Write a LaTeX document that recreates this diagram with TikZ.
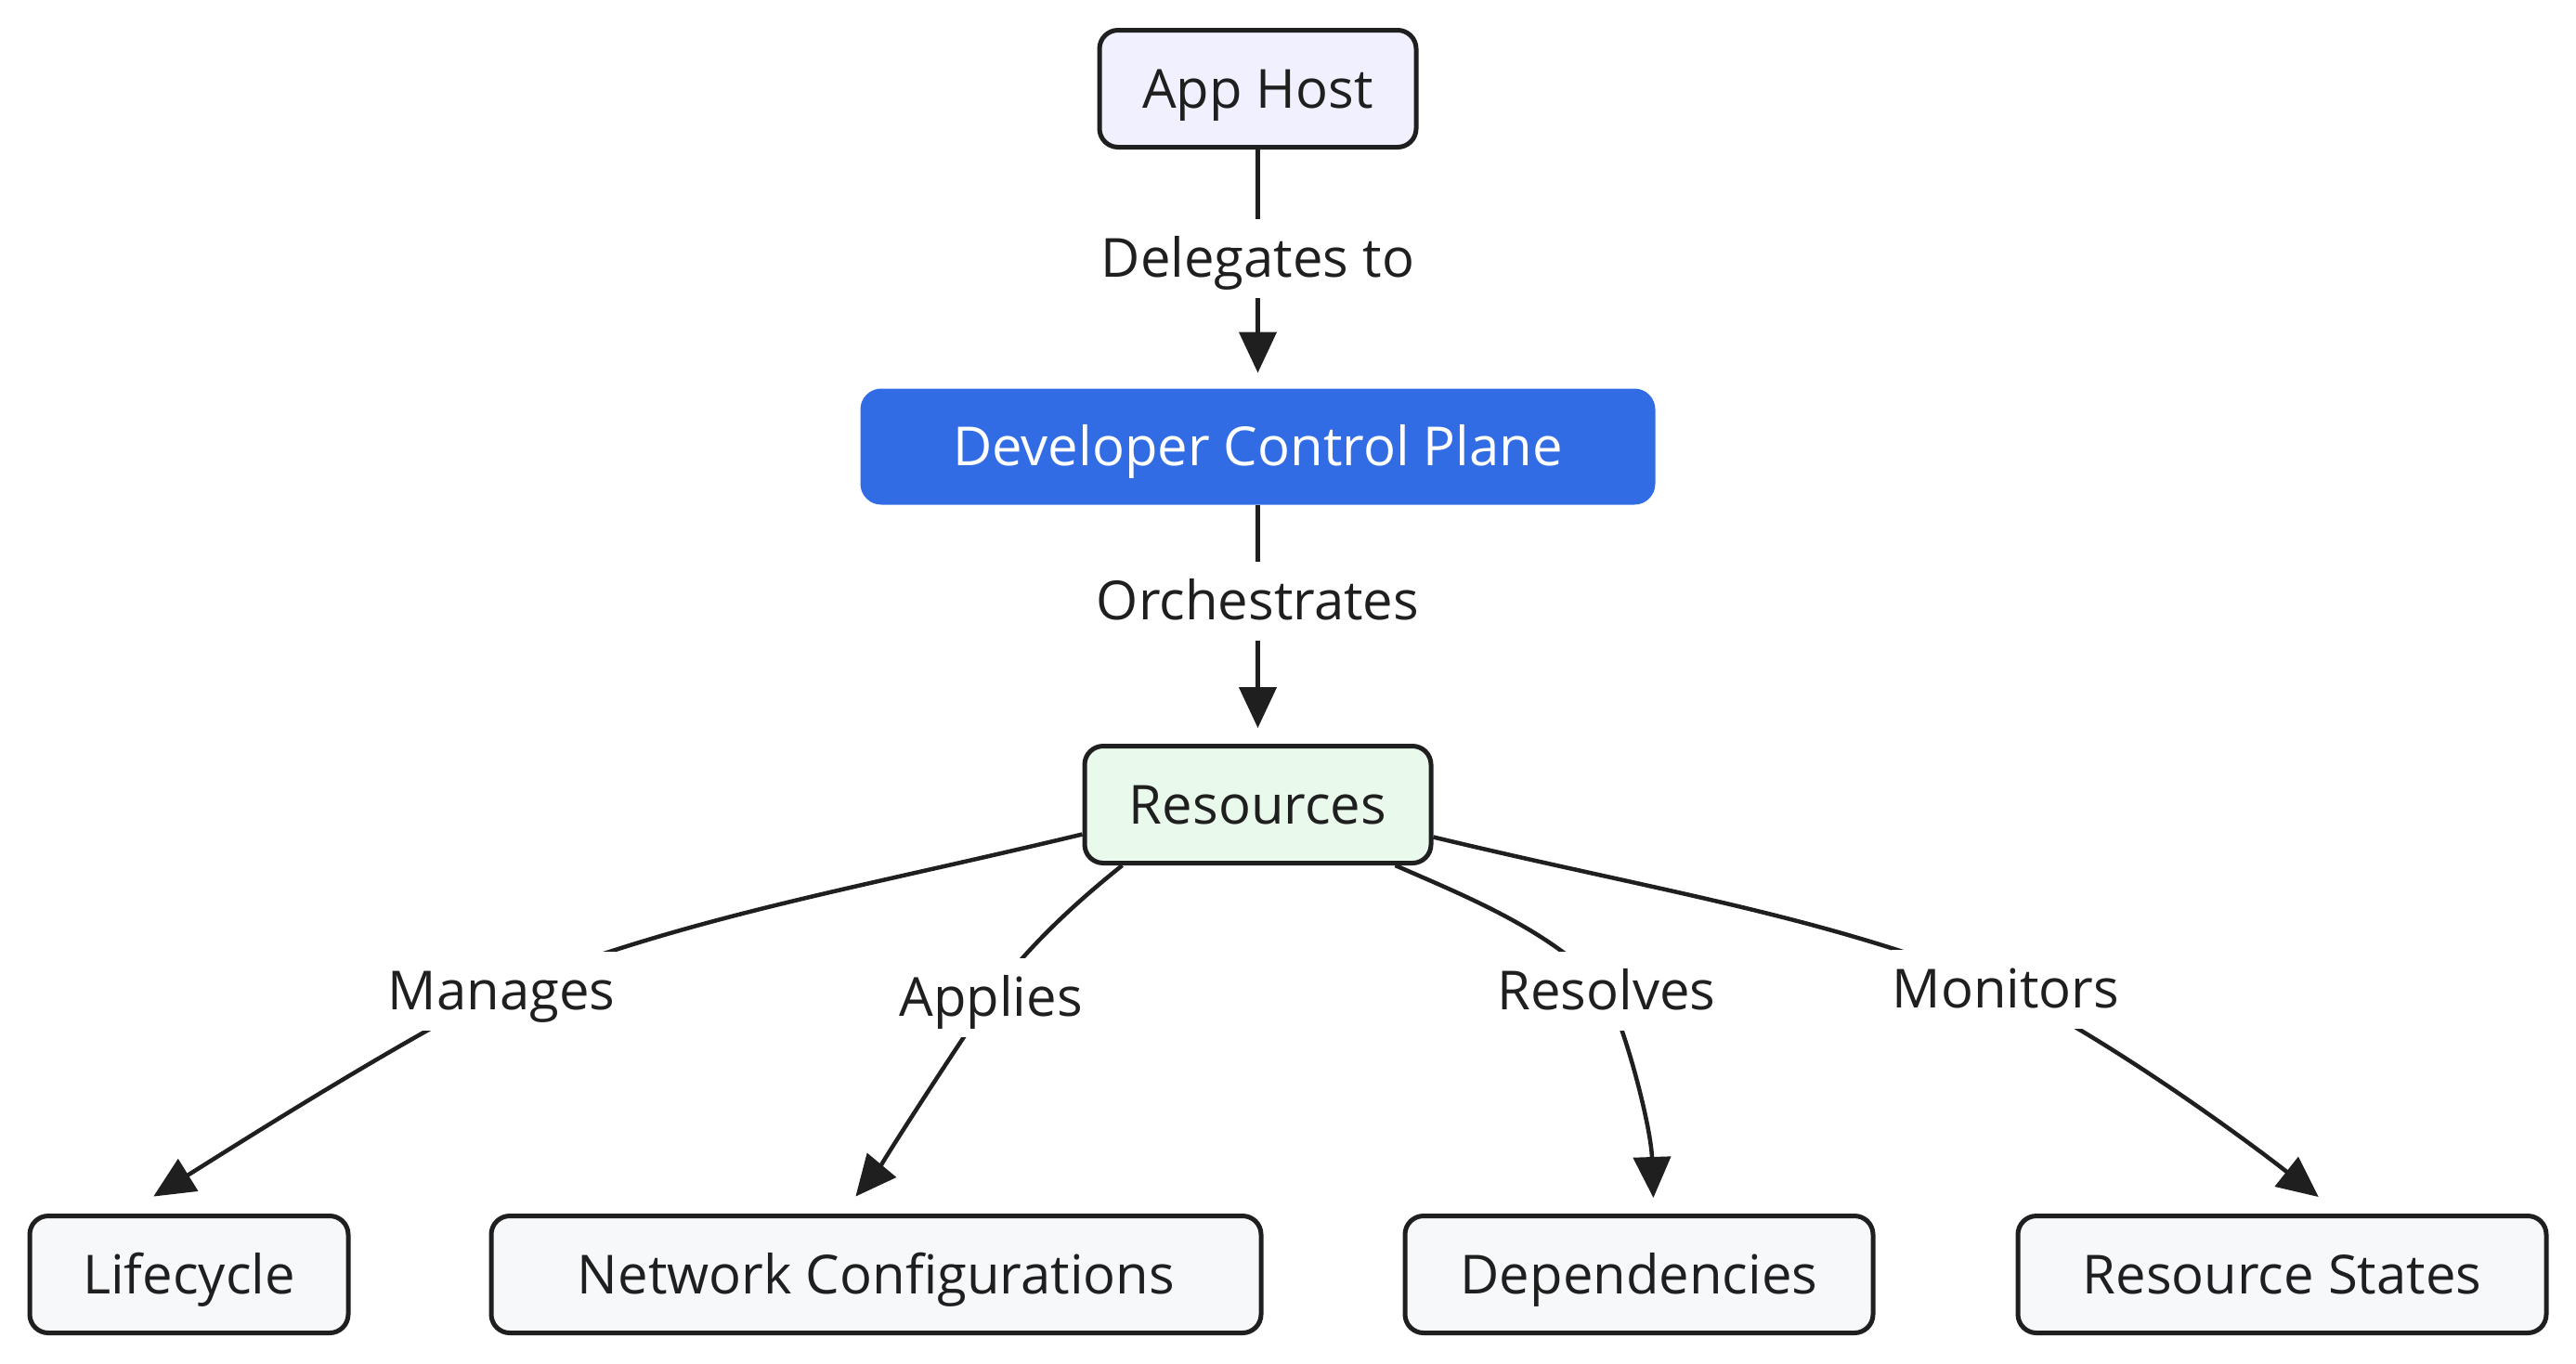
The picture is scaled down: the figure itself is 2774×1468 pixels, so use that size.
\documentclass[tikz,border=0pt]{standalone}
\usepackage{fontspec}
\setmainfont{Open Sans}
\usetikzlibrary{arrows.meta,calc}
\definecolor{ink}{HTML}{1F1F1F}
\definecolor{appfill}{HTML}{F1F0FE}
\definecolor{dcpblue}{HTML}{326CE5}
\definecolor{resfill}{HTML}{E9F9EC}
\definecolor{leaffill}{HTML}{F6F8FA}
\begin{document}
\begin{tikzpicture}[x=1pt,y=-1pt,
  txt/.style={font=\fontsize{58}{66}\selectfont, text height=50pt, text depth=9pt},
  box/.style={txt, draw=ink, line width=5pt, rounded corners=20pt, inner sep=0pt, text=ink, minimum height=126pt},
  lbl/.style={txt, fill=white, inner xsep=1pt, inner ysep=0pt, minimum height=85pt, text=ink},
  edge/.style={draw=ink, line width=4.5pt, -{Triangle[length=44pt,width=40pt]}}
]
\useasboundingbox (0,0) rectangle (2774,1468);
% nodes
\node[box, fill=appfill, minimum width=341pt] (app) at (1354.5,95.5) {App Host};
\node[box, draw=dcpblue, fill=dcpblue, text=white, minimum width=851pt, minimum height=120pt] (dcp) at (1354.5,481) {Developer Control Plane};
\node[box, fill=resfill, minimum width=373pt] (res) at (1354.5,866.5) {Resources};
\node[box, fill=leaffill, minimum width=343pt] (life) at (203.5,1372.5) {Lifecycle};
\node[box, fill=leaffill, minimum width=829pt] (netc) at (943.5,1372.5) {Network Configurations};
\node[box, fill=leaffill, minimum width=504pt] (dep) at (1765,1372.5) {Dependencies};
\node[box, fill=leaffill, minimum width=569pt] (rst) at (2457.5,1372.5) {Resource States};
% label positions
\coordinate (ld) at (1354.5,278);
\coordinate (lo) at (1354.5,647);
\coordinate (lm) at (540,1067);
\coordinate (la) at (1067,1074);
\coordinate (lr) at (1730,1067);
\coordinate (lmo) at (2160,1065);
% edges
\draw[edge, shorten >=17pt] (app) -- (dcp);
\draw[edge, shorten >=17pt] (dcp) -- (res);
\draw[edge, shorten >=35pt] ([yshift=-32pt]res.west) .. controls +(-250,60) and +(200,-80) .. (lm) .. controls +(-120,60) and +(100,-62) .. ([xshift=-68pt]life.north);
\draw[edge, shorten >=24pt] ([xshift=-146pt]res.south) .. controls +(-50,40) and +(40,-55) .. (la) .. controls +(-35,50) and +(35,-42) .. ([xshift=-37.5pt]netc.north);
\draw[edge, shorten >=17pt] ([xshift=148pt]res.south) .. controls +(80,35) and +(-60,-65) .. (lr) .. controls +(25,55) and +(-3,-90) .. ([xshift=16pt]dep.north);
\draw[edge, shorten >=29pt] ([yshift=-35pt]res.east) .. controls +(250,60) and +(-200,-80) .. (lmo) .. controls +(120,60) and +(-95,-75) .. ([xshift=62pt]rst.north);
% labels
\node[lbl] (tdel) at (ld) {Delegates to};
\node[lbl] (torc) at (lo) {Orchestrates};
\node[lbl] (tman) at (lm) {Manages};
\node[lbl] (tapp) at (la) {Applies};
\node[lbl] (tres) at (lr) {Resolves};
\node[lbl] (tmon) at (lmo) {Monitors};
\end{tikzpicture}
\end{document}
